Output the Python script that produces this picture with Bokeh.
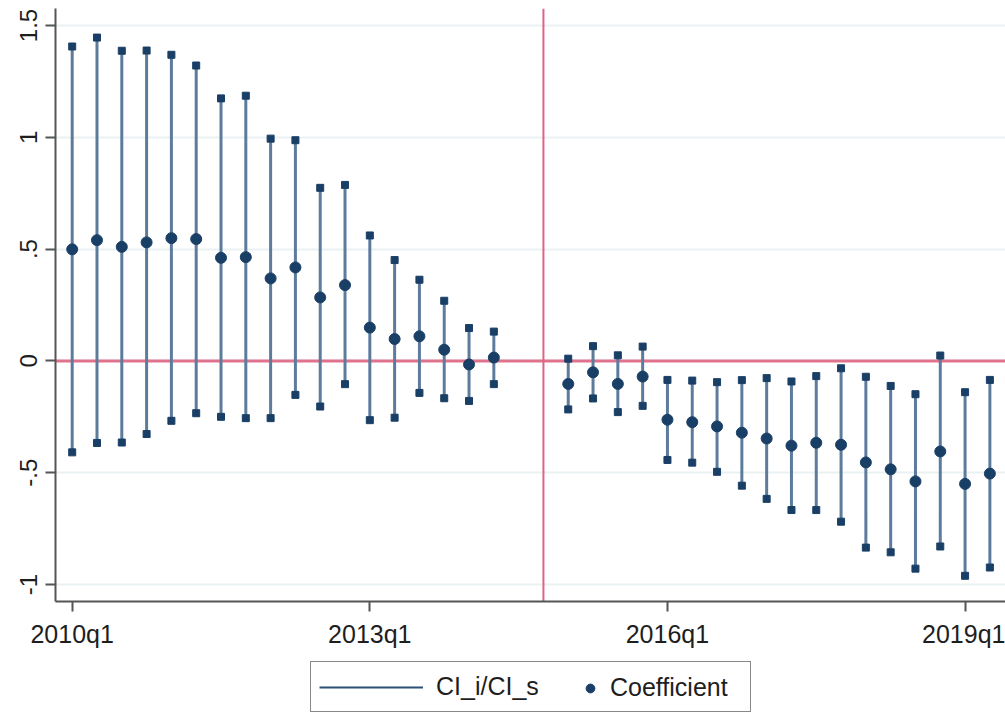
from bokeh.plotting import figure
from bokeh.layouts import column
from bokeh.models import (Span, Legend, LegendItem, FixedTicker, Range1d)
from bokeh.embed import file_html
from bokeh.resources import INLINE

# ---- data ----
quarters = ["2010q1", "2010q2", "2010q3", "2010q4", "2011q1", "2011q2", "2011q3", "2011q4",
            "2012q1", "2012q2", "2012q3", "2012q4", "2013q1", "2013q2", "2013q3", "2013q4",
            "2014q1", "2014q2",
            "2015q1", "2015q2", "2015q3", "2015q4", "2016q1", "2016q2", "2016q3", "2016q4",
            "2017q1", "2017q2", "2017q3", "2017q4", "2018q1", "2018q2", "2018q3", "2018q4",
            "2019q1", "2019q2"]
coef = [0.499, 0.540, 0.510, 0.530, 0.549, 0.545, 0.461, 0.464,
        0.369, 0.418, 0.284, 0.339, 0.149, 0.098, 0.110, 0.050,
        -0.016, 0.015,
        -0.103, -0.051, -0.103, -0.070, -0.263, -0.274, -0.293, -0.321,
        -0.347, -0.379, -0.366, -0.375, -0.454, -0.485, -0.539, -0.405,
        -0.550, -0.504]
ci_high = [1.406, 1.446, 1.387, 1.388, 1.369, 1.321, 1.174, 1.186,
           0.994, 0.987, 0.774, 0.787, 0.561, 0.451, 0.363, 0.269,
           0.147, 0.131,
           0.010, 0.066, 0.025, 0.064, -0.085, -0.088, -0.095, -0.086,
           -0.077, -0.092, -0.068, -0.033, -0.071, -0.112, -0.149, 0.024,
           -0.140, -0.085]
ci_low = [-0.409, -0.367, -0.365, -0.327, -0.268, -0.234, -0.250, -0.256,
          -0.256, -0.152, -0.204, -0.104, -0.265, -0.254, -0.143, -0.167,
          -0.179, -0.104,
          -0.217, -0.168, -0.229, -0.201, -0.443, -0.455, -0.496, -0.558,
          -0.617, -0.667, -0.667, -0.719, -0.835, -0.856, -0.929, -0.830,
          -0.961, -0.924]
event_quarter = "2014q4"
xtick_labels = ["2010q1", "2013q1", "2016q1", "2019q1"]
ytick_values = [-1, -0.5, 0, 0.5, 1, 1.5]
ytick_labels = ["-1", "-.5", "0", ".5", "1", "1.5"]
series_labels = ["CI_i/CI_s", "Coefficient"]


def qnum(s):
    return (int(s[:4]) - 2010) * 4 + int(s[-1]) - 1


x = [qnum(q) for q in quarters]

NAVY = "#1a3f66"
CI_COL = "#5d7c9c"
RED = "#e0728d"
FONT = "Liberation Sans"
TXT = "#1e1e1e"

p = figure(width=1005, height=650, output_backend="svg", toolbar_location=None,
           x_range=Range1d(-0.673, 37.63), y_range=Range1d(-1.076, 1.576),
           min_border_left=55, min_border_right=0, min_border_top=8, min_border_bottom=48)
p.outline_line_color = None
p.background_fill_color = "white"
p.border_fill_color = "white"

# grid
p.xgrid.visible = False
p.ygrid.grid_line_color = "#e9f1f3"
p.ygrid.grid_line_width = 2

# reference lines
p.add_layout(Span(location=0, dimension="width", line_color=RED, line_width=3, level="underlay"))
p.add_layout(Span(location=qnum(event_quarter), dimension="height", line_color="#df6383",
                  line_width=2, level="underlay"))

p.segment(x0=x, y0=ci_low, x1=x, y1=ci_high, line_color=CI_COL, line_width=3)
p.scatter(x, ci_high, marker="square", size=7, color=NAVY)
p.scatter(x, ci_low, marker="square", size=7, color=NAVY)
p.scatter(x, coef, marker="circle", size=11, color=NAVY)

# axes
p.xaxis.ticker = FixedTicker(ticks=[qnum(t) for t in xtick_labels])
p.xaxis.major_label_overrides = {qnum(t): t for t in xtick_labels}
p.yaxis.ticker = FixedTicker(ticks=ytick_values)
p.yaxis.major_label_overrides = {v: l for v, l in zip(ytick_values, ytick_labels)}
p.yaxis.major_label_orientation = "vertical"
for ax in (p.xaxis[0], p.yaxis[0]):
    ax.axis_line_color = "#555555"
    ax.axis_line_width = 2
    ax.major_tick_line_color = "#555555"
    ax.major_tick_line_width = 2
    ax.major_tick_out = 10
    ax.major_tick_in = 0
    ax.minor_tick_line_color = None
    ax.major_label_text_font = FONT
    ax.major_label_text_color = TXT
p.xaxis.major_label_text_font_size = "25px"
p.yaxis.major_label_text_font_size = "24px"
p.xaxis.major_label_standoff = 8
p.yaxis.major_label_standoff = 8

# ---- legend strip below the plot ----
lg = figure(width=1005, height=63, output_backend="svg", toolbar_location=None,
            x_range=Range1d(0, 1), y_range=Range1d(0, 1),
            min_border_left=0, min_border_right=0, min_border_top=0, min_border_bottom=0)
lg.axis.visible = False
lg.grid.visible = False
lg.outline_line_color = None
lg.background_fill_color = "white"
lg.border_fill_color = "white"
# legend-only renderers (data kept outside the visible range)
ci_key = lg.segment(x0=[-5], y0=[-5], x1=[-5], y1=[-4], line_color="#2b5176", line_width=2)
dot_key = lg.scatter([-5], [-5], marker="circle", size=10, color=NAVY)

leg1 = Legend(items=[LegendItem(label=series_labels[0], renderers=[ci_key])],
              location=(255, 1), orientation="horizontal",
              glyph_width=104, glyph_height=20, label_standoff=13,
              label_width=306, label_height=33, padding=8, margin=0, spacing=0,
              border_line_color="#111111", border_line_width=1.5,
              background_fill_color="white", background_fill_alpha=1,
              label_text_font=FONT, label_text_font_size="25px", label_text_color=TXT)
leg2 = Legend(items=[LegendItem(label=series_labels[1], renderers=[dot_key])],
              location=(524, 9), orientation="horizontal",
              glyph_width=22, glyph_height=22, label_standoff=9,
              label_height=33, padding=0, margin=0,
              border_line_color=None, background_fill_alpha=0,
              label_text_font=FONT, label_text_font_size="25px", label_text_color=TXT)
lg.add_layout(leg1, "center")
lg.add_layout(leg2, "center")

layout = column(p, lg, spacing=0)
open("out.html", "w").write(file_html(layout, INLINE))
